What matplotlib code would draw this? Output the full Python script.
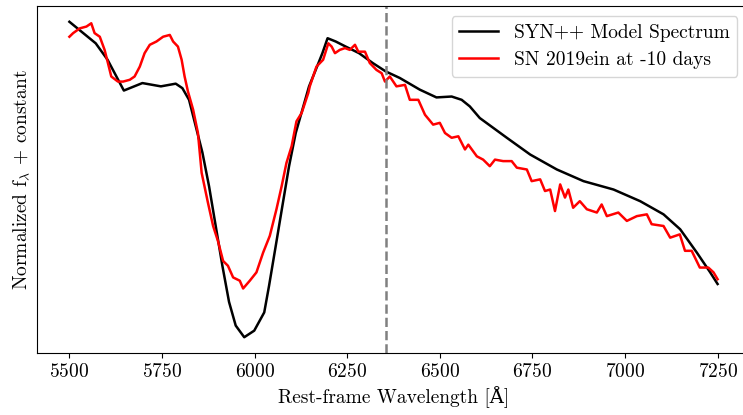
import matplotlib
matplotlib.use('Agg')
import matplotlib.pyplot as plt

plt.rcParams['font.family'] = ['cmr10', 'DejaVu Serif']
plt.rcParams['mathtext.fontset'] = 'cm'
plt.rcParams['axes.formatter.use_mathtext'] = True

# SYN++ model (wavelength in Angstrom, normalized flux)
model_wave = [5500, 5571, 5603, 5647, 5697, 5747, 5787, 5805, 5823, 5841,
              5859, 5877, 5895, 5913, 5931, 5949, 5972, 5999, 6026, 6039,
              6057, 6075, 6093, 6111, 6129, 6147, 6165, 6183, 6197, 6219,
              6246, 6282, 6319, 6354, 6392, 6446, 6491, 6532, 6559, 6581,
              6608, 6681, 6744, 6816, 6888, 6969, 7041, 7104, 7149, 7194,
              7230, 7250]
model_flux = [1.104, 1.032, 0.977, 0.874, 0.899, 0.888, 0.897, 0.882, 0.843, 0.755,
              0.667, 0.554, 0.421, 0.288, 0.167, 0.088, 0.049, 0.071, 0.132, 0.221,
              0.354, 0.488, 0.621, 0.732, 0.810, 0.888, 0.943, 0.999, 1.049, 1.038,
              1.021, 0.999, 0.966, 0.938, 0.916, 0.877, 0.851, 0.854, 0.843, 0.821,
              0.782, 0.716, 0.660, 0.610, 0.571, 0.543, 0.504, 0.460, 0.410, 0.332,
              0.266, 0.227]

# observed spectrum, SN 2019ein at -10 days
obs_wave = [5500, 5510, 5528, 5546, 5559, 5568, 5582, 5595, 5604, 5613,
            5631, 5645, 5663, 5676, 5690, 5703, 5717, 5735, 5753, 5771,
            5780, 5793, 5803, 5811, 5820, 5834, 5847, 5857, 5874, 5888,
            5901, 5915, 5928, 5942, 5960, 5969, 5987, 6005, 6023, 6041,
            6059, 6073, 6086, 6100, 6113, 6127, 6145, 6149, 6167, 6185,
            6199, 6208, 6217, 6230, 6244, 6257, 6271, 6280, 6298, 6311,
            6329, 6343, 6352, 6365, 6383, 6406, 6419, 6442, 6460, 6482,
            6500, 6514, 6532, 6550, 6568, 6577, 6600, 6617, 6635, 6649,
            6671, 6694, 6708, 6735, 6748, 6771, 6784, 6798, 6811, 6825,
            6838, 6847, 6860, 6878, 6897, 6924, 6937, 6951, 6982, 7005,
            7032, 7059, 7072, 7104, 7122, 7148, 7162, 7180, 7202, 7225,
            7239, 7250]
obs_flux = [1.054, 1.066, 1.082, 1.088, 1.099, 1.066, 1.054, 1.010, 0.966, 0.921,
            0.904, 0.904, 0.910, 0.921, 0.954, 0.999, 1.027, 1.038, 1.054, 1.060,
            1.038, 1.021, 0.977, 0.921, 0.871, 0.810, 0.732, 0.599, 0.499, 0.421,
            0.371, 0.304, 0.288, 0.249, 0.238, 0.212, 0.238, 0.266, 0.332, 0.388,
            0.477, 0.554, 0.632, 0.688, 0.771, 0.799, 0.866, 0.888, 0.954, 0.977,
            1.032, 1.021, 0.999, 1.010, 1.016, 1.010, 1.027, 1.004, 1.004, 0.966,
            0.943, 0.932, 0.904, 0.921, 0.888, 0.893, 0.843, 0.843, 0.793, 0.760,
            0.766, 0.732, 0.716, 0.721, 0.677, 0.693, 0.654, 0.643, 0.621, 0.643,
            0.638, 0.638, 0.616, 0.610, 0.571, 0.577, 0.538, 0.543, 0.471, 0.560,
            0.516, 0.543, 0.482, 0.504, 0.477, 0.466, 0.493, 0.454, 0.466, 0.438,
            0.454, 0.460, 0.427, 0.421, 0.382, 0.393, 0.338, 0.338, 0.282, 0.282,
            0.266, 0.243]

si_line = 6355

fig = plt.figure(figsize=(7.43, 4.15), dpi=100)
ax = fig.add_axes([37/743, 62/415, 713/743, 347/415])

ax.plot(model_wave, model_flux, color='black', lw=1.8, label='SYN++ Model Spectrum')
ax.plot(obs_wave, obs_flux, color='red', lw=1.8, label='SN 2019ein at -10 days')
ax.axvline(si_line, color='gray', ls='--', lw=1.8)

ax.set_xlim(5412.5, 7337.5)
ax.set_xticks([5500, 5750, 6000, 6250, 6500, 6750, 7000, 7250])
ax.set_yticks([])
ax.tick_params(labelsize=14)
ax.set_xlabel('Rest-frame Wavelength [Å]', fontsize=14)
ax.set_ylabel(r'Normalized f$_\lambda$ + constant', fontsize=14)
ax.legend(loc='upper right', fontsize=14, bbox_to_anchor=(0.996, 1.0))

fig.savefig('out.png', dpi=100)
